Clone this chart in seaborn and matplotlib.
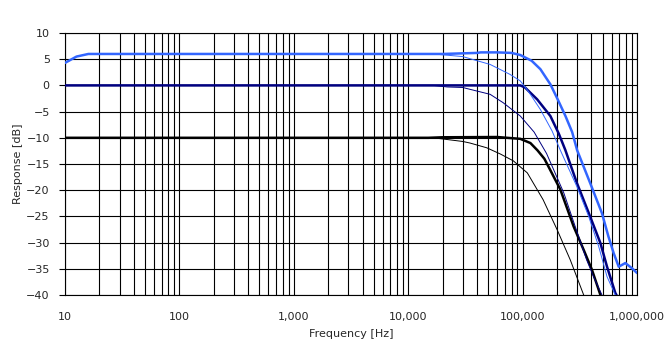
import numpy as np
import pandas as pd
import matplotlib
matplotlib.use('Agg')
import matplotlib.pyplot as plt
import matplotlib.ticker as mticker
import seaborn as sns

# values (frequency in Hz, response in dB)
blue_thick_f = [10, 12.6, 16, 20, 1000, 20000, 40000, 43000, 60000, 80000, 95500, 120000, 143000,
                175000, 203000, 237000, 271000, 300000, 389000, 494000, 562000, 625000,
                692000, 791000, 904000, 1000000]
blue_thick_db = [4.3, 5.5, 6.0, 6.0, 6.0, 6.0, 6.2, 6.3, 6.3, 6.2, 5.8, 4.7, 3.1,
                 0.2, -2.7, -5.85, -8.9, -12.4, -18.6, -24.4, -28.8, -32.0,
                 -34.6, -33.9, -34.9, -35.8]

blue_thin_f = [10, 12.6, 16, 16600, 30000, 34700, 52000, 77600, 95500, 112000, 143000,
               181000, 214000, 298000, 378000, 462000, 547000, 646000]
blue_thin_db = [4.3, 5.5, 6.0, 6.0, 5.5, 5.1, 4.0, 2.1, 0.85, -1.1, -4.6,
                -8.7, -12.4, -19.3, -25.0, -30.7, -36.5, -40.0]

navy_thick_f = [10, 1000, 95500, 105000, 134000, 175000, 207000, 236000, 298000, 389000,
                479000, 547000, 646000, 662000]
navy_thick_db = [0.0, 0.0, 0.0, -0.4, -2.66, -5.85, -9.2, -12.3, -18.6, -25.0,
                 -30.1, -34.6, -39.6, -40.0]

navy_thin_f = [10, 16600, 22000, 30000, 34700, 52000, 67600, 95500, 126000, 162000,
               181000, 229000, 288000, 363000, 417000, 494000]
navy_thin_db = [0.0, 0.0, -0.3, -0.4, -0.75, -1.7, -3.3, -5.85, -8.9, -13.0,
                -15.4, -20.5, -26.9, -33.3, -36.5, -40.0]

black_thick_f = [10, 15000, 20000, 60000, 95500, 117000, 135000, 155000, 174000,
                 214000, 279000, 342000, 404000, 479000]
black_thick_db = [-10.0, -10.0, -9.9, -9.85, -10.2, -11.0, -12.4, -14.0, -16.1,
                  -19.9, -26.9, -31.4, -35.2, -40.0]

black_thin_f = [10, 16600, 30000, 34700, 48500, 64000, 83000, 110000, 151000,
                200000, 261000, 342000]
black_thin_db = [-10.0, -10.0, -10.7, -11.0, -11.9, -13.1, -14.4, -16.7, -21.8,
                 -27.5, -33.3, -40.0]

x_ticks = [10, 100, 1000, 10000, 100000, 1000000]
x_tick_labels = ['10', '100', '1,000', '10,000', '100,000', '1,000,000']
y_ticks = list(range(-40, 11, 5))

sns.set_style('white')
plt.rcParams['font.family'] = ['DejaVu Sans']

fig = plt.figure(figsize=(6.71, 3.57), dpi=100)
ax = fig.add_axes([65 / 671, 1 - 295 / 357, (637 - 65) / 671, (295 - 33) / 357])

series = [
    (black_thin_f, black_thin_db, 'black', 0.7),
    (black_thick_f, black_thick_db, 'black', 1.8),
    (navy_thin_f, navy_thin_db, '#000080', 0.7),
    (navy_thick_f, navy_thick_db, '#000080', 1.8),
    (blue_thin_f, blue_thin_db, '#3366ff', 0.7),
    (blue_thick_f, blue_thick_db, '#3366ff', 1.8),
]
for f, db, col, lw in series:
    df = pd.DataFrame({'f': f, 'db': db})
    sns.lineplot(data=df, x='f', y='db', ax=ax, color=col, linewidth=lw,
                 estimator=None, sort=False, zorder=3)

ax.set_xscale('log')
ax.set_xlim(10, 1000000)
ax.set_ylim(-40, 10)
ax.set_xticks(x_ticks)
ax.set_xticklabels(x_tick_labels)
ax.xaxis.set_minor_locator(mticker.LogLocator(base=10, subs=np.arange(2, 10)))
ax.xaxis.set_minor_formatter(mticker.NullFormatter())
ax.set_yticks(y_ticks)
ax.grid(True, which='both', axis='x', color='black', linewidth=0.8)
ax.grid(True, which='major', axis='y', color='black', linewidth=0.8)
ax.set_axisbelow(True)

for s in ax.spines.values():
    s.set_color('black')
    s.set_linewidth(0.8)

ax.tick_params(axis='x', which='both', length=0, pad=12, labelsize=8)
ax.tick_params(axis='y', length=4, width=0.8, color='black', pad=7, labelsize=8, left=True)

ax.set_xlabel('Frequency [Hz]', fontsize=8, labelpad=5)
ax.set_ylabel('Response [dB]', fontsize=8, labelpad=2)

fig.savefig('out.png', dpi=100)
